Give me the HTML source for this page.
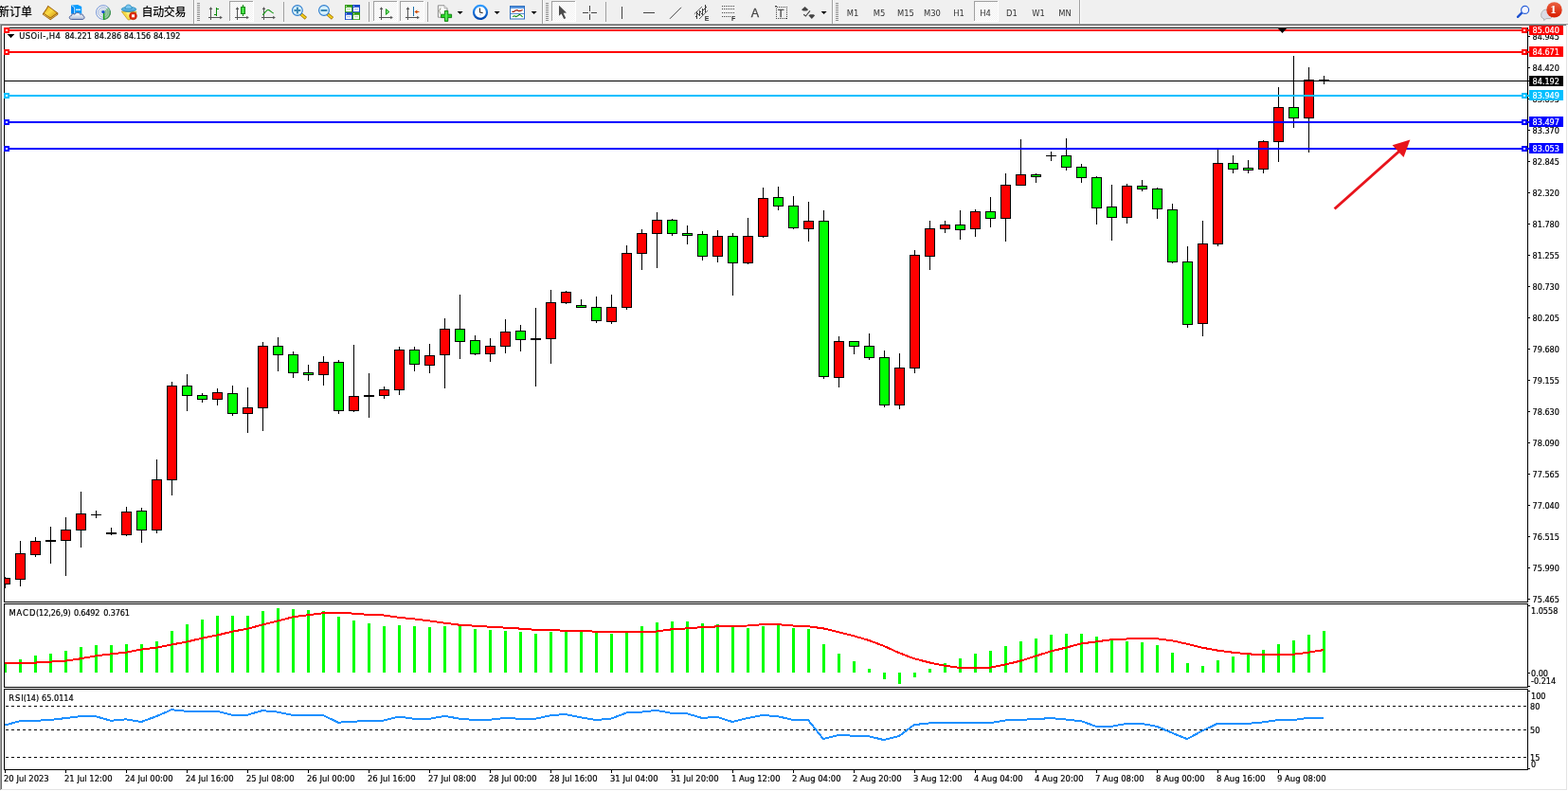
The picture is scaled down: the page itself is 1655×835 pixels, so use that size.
<!DOCTYPE html>
<html lang="zh"><head><meta charset="utf-8"><title>USOil H4</title>
<style>
html,body{margin:0;padding:0;background:#fff}
body{width:1655px;height:835px;position:relative;overflow:hidden;font-family:"Liberation Sans","Noto Sans CJK SC",sans-serif;color:#000}
#tb{position:absolute;left:0;top:0;width:1655px;height:25px;background:#f0f0f0}
svg{position:absolute;left:0;top:0}
.t{position:absolute;white-space:pre;font-family:"DejaVu Sans Condensed","Liberation Sans",sans-serif;font-size:9px;line-height:11px;height:11px;-webkit-text-stroke:0.2px #000}
.ax{left:1617.6px}
.pl{position:absolute;left:1614px;width:36px;height:11px;overflow:hidden}
.pl span{position:absolute;left:3.6px;top:1px;color:#fff;font-family:"DejaVu Sans Condensed","Liberation Sans",sans-serif;font-size:9px;line-height:11px;white-space:pre;-webkit-text-stroke:0.2px #fff}
.dt{top:816px;font-size:9.4px}
.cn{position:absolute;font-family:"Liberation Sans","Noto Sans CJK SC",sans-serif;font-weight:500;font-size:12px;line-height:14px;white-space:pre;color:#000}
.tf{position:absolute;top:8px;font-family:"DejaVu Sans Condensed","Liberation Sans",sans-serif;font-size:9.3px;line-height:11px;color:#333;white-space:pre;text-align:center;width:28px}
</style></head><body>
<div id="tb"></div>
<svg id="chart" width="1655" height="835" viewBox="0 0 1655 835" shape-rendering="crispEdges">
<rect x="0" y="25" width="1655" height="1" fill="#a0a0a0"/><rect x="0" y="25" width="1" height="809" fill="#a0a0a0"/><rect x="1" y="26" width="1653" height="1" fill="#696969"/><rect x="1" y="26" width="1" height="807" fill="#696969"/><rect x="1653" y="26" width="1" height="808" fill="#e3e3e3"/><rect x="1" y="833" width="1653" height="1" fill="#e3e3e3"/><rect x="4" y="29" width="1" height="784" fill="#000"/><rect x="4" y="29" width="1609" height="1" fill="#000"/><rect x="1612" y="29" width="1" height="784" fill="#000"/><rect x="4" y="635" width="1609" height="1" fill="#000"/><rect x="4" y="637" width="1609" height="1" fill="#000"/><rect x="4" y="725" width="1609" height="1" fill="#000"/><rect x="4" y="727" width="1609" height="1" fill="#000"/><rect x="4" y="812" width="1609" height="1" fill="#000"/><rect x="4" y="636" width="1609" height="1" fill="#fff"/><rect x="4" y="726" width="1609" height="1" fill="#fff"/>
<g id="candles"><rect x="5" y="609" width="1" height="12" fill="#000"/><rect x="5" y="610" width="6" height="7" fill="#000"/><rect x="5" y="611" width="5" height="5" fill="#ff0000"/><rect x="21" y="571" width="1" height="48" fill="#000"/><rect x="16" y="584" width="11" height="28" fill="#000"/><rect x="17" y="585" width="9" height="26" fill="#ff0000"/><rect x="37" y="567" width="1" height="21" fill="#000"/><rect x="32" y="571" width="11" height="15" fill="#000"/><rect x="33" y="572" width="9" height="13" fill="#ff0000"/><rect x="53" y="556" width="1" height="39" fill="#000"/><rect x="48" y="570" width="11" height="2" fill="#000"/><rect x="69" y="546" width="1" height="62" fill="#000"/><rect x="64" y="559" width="11" height="12" fill="#000"/><rect x="65" y="560" width="9" height="10" fill="#ff0000"/><rect x="85" y="519" width="1" height="59" fill="#000"/><rect x="80" y="542" width="11" height="18" fill="#000"/><rect x="81" y="543" width="9" height="16" fill="#ff0000"/><rect x="101" y="539" width="1" height="8" fill="#000"/><rect x="96" y="543" width="11" height="1" fill="#000"/><rect x="117" y="557" width="1" height="8" fill="#000"/><rect x="112" y="562" width="11" height="2" fill="#000"/><rect x="133" y="535" width="1" height="31" fill="#000"/><rect x="128" y="540" width="11" height="25" fill="#000"/><rect x="129" y="541" width="9" height="23" fill="#ff0000"/><rect x="149" y="536" width="1" height="37" fill="#000"/><rect x="144" y="539" width="11" height="21" fill="#000"/><rect x="145" y="540" width="9" height="19" fill="#00ff00"/><rect x="165" y="485" width="1" height="78" fill="#000"/><rect x="160" y="506" width="11" height="54" fill="#000"/><rect x="161" y="507" width="9" height="52" fill="#ff0000"/><rect x="181" y="403" width="1" height="120" fill="#000"/><rect x="176" y="407" width="11" height="100" fill="#000"/><rect x="177" y="408" width="9" height="98" fill="#ff0000"/><rect x="197" y="395" width="1" height="39" fill="#000"/><rect x="192" y="407" width="11" height="11" fill="#000"/><rect x="193" y="408" width="9" height="9" fill="#00ff00"/><rect x="213" y="415" width="1" height="10" fill="#000"/><rect x="208" y="417" width="11" height="5" fill="#000"/><rect x="209" y="418" width="9" height="3" fill="#00ff00"/><rect x="229" y="410" width="1" height="18" fill="#000"/><rect x="224" y="414" width="11" height="8" fill="#000"/><rect x="225" y="415" width="9" height="6" fill="#ff0000"/><rect x="245" y="407" width="1" height="32" fill="#000"/><rect x="240" y="415" width="11" height="22" fill="#000"/><rect x="241" y="416" width="9" height="20" fill="#00ff00"/><rect x="261" y="409" width="1" height="48" fill="#000"/><rect x="256" y="430" width="11" height="7" fill="#000"/><rect x="257" y="431" width="9" height="5" fill="#ff0000"/><rect x="277" y="361" width="1" height="94" fill="#000"/><rect x="272" y="365" width="11" height="66" fill="#000"/><rect x="273" y="366" width="9" height="64" fill="#ff0000"/><rect x="293" y="356" width="1" height="36" fill="#000"/><rect x="288" y="365" width="11" height="10" fill="#000"/><rect x="289" y="366" width="9" height="8" fill="#00ff00"/><rect x="309" y="371" width="1" height="28" fill="#000"/><rect x="304" y="374" width="11" height="20" fill="#000"/><rect x="305" y="375" width="9" height="18" fill="#00ff00"/><rect x="325" y="385" width="1" height="17" fill="#000"/><rect x="320" y="393" width="11" height="3" fill="#000"/><rect x="321" y="394" width="9" height="1" fill="#00ff00"/><rect x="341" y="376" width="1" height="31" fill="#000"/><rect x="336" y="382" width="11" height="14" fill="#000"/><rect x="337" y="383" width="9" height="12" fill="#ff0000"/><rect x="357" y="380" width="1" height="57" fill="#000"/><rect x="352" y="382" width="11" height="52" fill="#000"/><rect x="353" y="383" width="9" height="50" fill="#00ff00"/><rect x="373" y="364" width="1" height="71" fill="#000"/><rect x="368" y="418" width="11" height="16" fill="#000"/><rect x="369" y="419" width="9" height="14" fill="#ff0000"/><rect x="389" y="394" width="1" height="47" fill="#000"/><rect x="384" y="417" width="11" height="2" fill="#000"/><rect x="405" y="408" width="1" height="13" fill="#000"/><rect x="400" y="411" width="11" height="7" fill="#000"/><rect x="401" y="412" width="9" height="5" fill="#ff0000"/><rect x="421" y="366" width="1" height="51" fill="#000"/><rect x="416" y="369" width="11" height="43" fill="#000"/><rect x="417" y="370" width="9" height="41" fill="#ff0000"/><rect x="437" y="366" width="1" height="26" fill="#000"/><rect x="432" y="369" width="11" height="16" fill="#000"/><rect x="433" y="370" width="9" height="14" fill="#00ff00"/><rect x="453" y="363" width="1" height="31" fill="#000"/><rect x="448" y="375" width="11" height="11" fill="#000"/><rect x="449" y="376" width="9" height="9" fill="#ff0000"/><rect x="469" y="336" width="1" height="74" fill="#000"/><rect x="464" y="347" width="11" height="28" fill="#000"/><rect x="465" y="348" width="9" height="26" fill="#ff0000"/><rect x="485" y="311" width="1" height="68" fill="#000"/><rect x="480" y="347" width="11" height="14" fill="#000"/><rect x="481" y="348" width="9" height="12" fill="#00ff00"/><rect x="501" y="354" width="1" height="21" fill="#000"/><rect x="496" y="359" width="11" height="15" fill="#000"/><rect x="497" y="360" width="9" height="13" fill="#00ff00"/><rect x="517" y="357" width="1" height="25" fill="#000"/><rect x="512" y="365" width="11" height="9" fill="#000"/><rect x="513" y="366" width="9" height="7" fill="#ff0000"/><rect x="533" y="337" width="1" height="36" fill="#000"/><rect x="528" y="350" width="11" height="16" fill="#000"/><rect x="529" y="351" width="9" height="14" fill="#ff0000"/><rect x="549" y="343" width="1" height="28" fill="#000"/><rect x="544" y="349" width="11" height="10" fill="#000"/><rect x="545" y="350" width="9" height="8" fill="#00ff00"/><rect x="565" y="325" width="1" height="83" fill="#000"/><rect x="560" y="357" width="11" height="2" fill="#000"/><rect x="581" y="306" width="1" height="78" fill="#000"/><rect x="576" y="319" width="11" height="39" fill="#000"/><rect x="577" y="320" width="9" height="37" fill="#ff0000"/><rect x="597" y="307" width="1" height="14" fill="#000"/><rect x="592" y="308" width="11" height="12" fill="#000"/><rect x="593" y="309" width="9" height="10" fill="#ff0000"/><rect x="613" y="316" width="1" height="9" fill="#000"/><rect x="608" y="322" width="11" height="3" fill="#000"/><rect x="609" y="323" width="9" height="1" fill="#00ff00"/><rect x="629" y="313" width="1" height="28" fill="#000"/><rect x="624" y="324" width="11" height="15" fill="#000"/><rect x="625" y="325" width="9" height="13" fill="#00ff00"/><rect x="645" y="311" width="1" height="31" fill="#000"/><rect x="640" y="324" width="11" height="16" fill="#000"/><rect x="641" y="325" width="9" height="14" fill="#ff0000"/><rect x="661" y="259" width="1" height="68" fill="#000"/><rect x="656" y="267" width="11" height="58" fill="#000"/><rect x="657" y="268" width="9" height="56" fill="#ff0000"/><rect x="677" y="242" width="1" height="43" fill="#000"/><rect x="672" y="246" width="11" height="22" fill="#000"/><rect x="673" y="247" width="9" height="20" fill="#ff0000"/><rect x="693" y="224" width="1" height="59" fill="#000"/><rect x="688" y="232" width="11" height="15" fill="#000"/><rect x="689" y="233" width="9" height="13" fill="#ff0000"/><rect x="709" y="231" width="1" height="18" fill="#000"/><rect x="704" y="232" width="11" height="15" fill="#000"/><rect x="705" y="233" width="9" height="13" fill="#00ff00"/><rect x="725" y="238" width="1" height="20" fill="#000"/><rect x="720" y="246" width="11" height="3" fill="#000"/><rect x="721" y="247" width="9" height="1" fill="#00ff00"/><rect x="741" y="244" width="1" height="31" fill="#000"/><rect x="736" y="247" width="11" height="24" fill="#000"/><rect x="737" y="248" width="9" height="22" fill="#00ff00"/><rect x="757" y="243" width="1" height="34" fill="#000"/><rect x="752" y="249" width="11" height="22" fill="#000"/><rect x="753" y="250" width="9" height="20" fill="#ff0000"/><rect x="773" y="246" width="1" height="66" fill="#000"/><rect x="768" y="249" width="11" height="29" fill="#000"/><rect x="769" y="250" width="9" height="27" fill="#00ff00"/><rect x="789" y="230" width="1" height="49" fill="#000"/><rect x="784" y="249" width="11" height="29" fill="#000"/><rect x="785" y="250" width="9" height="27" fill="#ff0000"/><rect x="805" y="198" width="1" height="53" fill="#000"/><rect x="800" y="209" width="11" height="41" fill="#000"/><rect x="801" y="210" width="9" height="39" fill="#ff0000"/><rect x="821" y="197" width="1" height="25" fill="#000"/><rect x="816" y="208" width="11" height="10" fill="#000"/><rect x="817" y="209" width="9" height="8" fill="#00ff00"/><rect x="837" y="207" width="1" height="35" fill="#000"/><rect x="832" y="217" width="11" height="24" fill="#000"/><rect x="833" y="218" width="9" height="22" fill="#00ff00"/><rect x="853" y="213" width="1" height="42" fill="#000"/><rect x="848" y="233" width="11" height="9" fill="#000"/><rect x="849" y="234" width="9" height="7" fill="#ff0000"/><rect x="869" y="222" width="1" height="178" fill="#000"/><rect x="864" y="233" width="11" height="165" fill="#000"/><rect x="865" y="234" width="9" height="163" fill="#00ff00"/><rect x="885" y="355" width="1" height="54" fill="#000"/><rect x="880" y="360" width="11" height="39" fill="#000"/><rect x="881" y="361" width="9" height="37" fill="#ff0000"/><rect x="901" y="360" width="1" height="14" fill="#000"/><rect x="896" y="360" width="11" height="6" fill="#000"/><rect x="897" y="361" width="9" height="4" fill="#00ff00"/><rect x="917" y="352" width="1" height="28" fill="#000"/><rect x="912" y="365" width="11" height="13" fill="#000"/><rect x="913" y="366" width="9" height="11" fill="#00ff00"/><rect x="933" y="370" width="1" height="60" fill="#000"/><rect x="928" y="377" width="11" height="51" fill="#000"/><rect x="929" y="378" width="9" height="49" fill="#00ff00"/><rect x="949" y="373" width="1" height="59" fill="#000"/><rect x="944" y="388" width="11" height="40" fill="#000"/><rect x="945" y="389" width="9" height="38" fill="#ff0000"/><rect x="965" y="264" width="1" height="130" fill="#000"/><rect x="960" y="269" width="11" height="120" fill="#000"/><rect x="961" y="270" width="9" height="118" fill="#ff0000"/><rect x="981" y="233" width="1" height="52" fill="#000"/><rect x="976" y="241" width="11" height="30" fill="#000"/><rect x="977" y="242" width="9" height="28" fill="#ff0000"/><rect x="997" y="233" width="1" height="13" fill="#000"/><rect x="992" y="237" width="11" height="5" fill="#000"/><rect x="993" y="238" width="9" height="3" fill="#ff0000"/><rect x="1013" y="222" width="1" height="31" fill="#000"/><rect x="1008" y="237" width="11" height="6" fill="#000"/><rect x="1009" y="238" width="9" height="4" fill="#00ff00"/><rect x="1029" y="221" width="1" height="29" fill="#000"/><rect x="1024" y="223" width="11" height="19" fill="#000"/><rect x="1025" y="224" width="9" height="17" fill="#ff0000"/><rect x="1045" y="208" width="1" height="32" fill="#000"/><rect x="1040" y="223" width="11" height="8" fill="#000"/><rect x="1041" y="224" width="9" height="6" fill="#00ff00"/><rect x="1061" y="183" width="1" height="72" fill="#000"/><rect x="1056" y="195" width="11" height="36" fill="#000"/><rect x="1057" y="196" width="9" height="34" fill="#ff0000"/><rect x="1077" y="147" width="1" height="49" fill="#000"/><rect x="1072" y="184" width="11" height="12" fill="#000"/><rect x="1073" y="185" width="9" height="10" fill="#ff0000"/><rect x="1093" y="183" width="1" height="10" fill="#000"/><rect x="1088" y="184" width="11" height="3" fill="#000"/><rect x="1089" y="185" width="9" height="1" fill="#00ff00"/><rect x="1109" y="160" width="1" height="10" fill="#000"/><rect x="1104" y="164" width="11" height="1" fill="#000"/><rect x="1125" y="146" width="1" height="34" fill="#000"/><rect x="1120" y="164" width="11" height="13" fill="#000"/><rect x="1121" y="165" width="9" height="11" fill="#00ff00"/><rect x="1141" y="173" width="1" height="20" fill="#000"/><rect x="1136" y="176" width="11" height="12" fill="#000"/><rect x="1137" y="177" width="9" height="10" fill="#00ff00"/><rect x="1157" y="186" width="1" height="51" fill="#000"/><rect x="1152" y="187" width="11" height="33" fill="#000"/><rect x="1153" y="188" width="9" height="31" fill="#00ff00"/><rect x="1173" y="195" width="1" height="59" fill="#000"/><rect x="1168" y="218" width="11" height="12" fill="#000"/><rect x="1169" y="219" width="9" height="10" fill="#00ff00"/><rect x="1189" y="194" width="1" height="42" fill="#000"/><rect x="1184" y="196" width="11" height="34" fill="#000"/><rect x="1185" y="197" width="9" height="32" fill="#ff0000"/><rect x="1205" y="190" width="1" height="12" fill="#000"/><rect x="1200" y="196" width="11" height="4" fill="#000"/><rect x="1201" y="197" width="9" height="2" fill="#00ff00"/><rect x="1221" y="198" width="1" height="33" fill="#000"/><rect x="1216" y="199" width="11" height="22" fill="#000"/><rect x="1217" y="200" width="9" height="20" fill="#00ff00"/><rect x="1237" y="215" width="1" height="63" fill="#000"/><rect x="1232" y="221" width="11" height="56" fill="#000"/><rect x="1233" y="222" width="9" height="54" fill="#00ff00"/><rect x="1253" y="260" width="1" height="86" fill="#000"/><rect x="1248" y="276" width="11" height="67" fill="#000"/><rect x="1249" y="277" width="9" height="65" fill="#00ff00"/><rect x="1269" y="233" width="1" height="122" fill="#000"/><rect x="1264" y="257" width="11" height="85" fill="#000"/><rect x="1265" y="258" width="9" height="83" fill="#ff0000"/><rect x="1285" y="157" width="1" height="103" fill="#000"/><rect x="1280" y="172" width="11" height="86" fill="#000"/><rect x="1281" y="173" width="9" height="84" fill="#ff0000"/><rect x="1301" y="164" width="1" height="19" fill="#000"/><rect x="1296" y="172" width="11" height="7" fill="#000"/><rect x="1297" y="173" width="9" height="5" fill="#00ff00"/><rect x="1317" y="169" width="1" height="14" fill="#000"/><rect x="1312" y="177" width="11" height="3" fill="#000"/><rect x="1313" y="178" width="9" height="1" fill="#00ff00"/><rect x="1333" y="148" width="1" height="35" fill="#000"/><rect x="1328" y="149" width="11" height="30" fill="#000"/><rect x="1329" y="150" width="9" height="28" fill="#ff0000"/><rect x="1349" y="92" width="1" height="79" fill="#000"/><rect x="1344" y="113" width="11" height="37" fill="#000"/><rect x="1345" y="114" width="9" height="35" fill="#ff0000"/><rect x="1365" y="59" width="1" height="76" fill="#000"/><rect x="1360" y="113" width="11" height="12" fill="#000"/><rect x="1361" y="114" width="9" height="10" fill="#00ff00"/><rect x="1381" y="71" width="1" height="90" fill="#000"/><rect x="1376" y="84" width="11" height="41" fill="#000"/><rect x="1377" y="85" width="9" height="39" fill="#ff0000"/><rect x="1397" y="80" width="1" height="9" fill="#000"/><rect x="1392" y="84" width="11" height="2" fill="#000"/></g>
<g id="lines"><rect x="5" y="85" width="1609" height="1" fill="#000"/><rect x="5" y="31" width="1609" height="2" fill="#ff0000"/><rect x="4" y="29" width="6" height="6" fill="#ff0000"/><rect x="6" y="31" width="2" height="2" fill="#fff"/><rect x="1606" y="29" width="6" height="6" fill="#ff0000"/><rect x="1608" y="31" width="2" height="2" fill="#fff"/><rect x="5" y="54" width="1609" height="2" fill="#ff0000"/><rect x="4" y="52" width="6" height="6" fill="#ff0000"/><rect x="6" y="54" width="2" height="2" fill="#fff"/><rect x="1606" y="52" width="6" height="6" fill="#ff0000"/><rect x="1608" y="54" width="2" height="2" fill="#fff"/><rect x="5" y="100" width="1609" height="2" fill="#00bfff"/><rect x="4" y="98" width="6" height="6" fill="#00bfff"/><rect x="6" y="100" width="2" height="2" fill="#fff"/><rect x="1606" y="98" width="6" height="6" fill="#00bfff"/><rect x="1608" y="100" width="2" height="2" fill="#fff"/><rect x="5" y="128" width="1609" height="2" fill="#0000ff"/><rect x="4" y="126" width="6" height="6" fill="#0000ff"/><rect x="6" y="128" width="2" height="2" fill="#fff"/><rect x="1606" y="126" width="6" height="6" fill="#0000ff"/><rect x="1608" y="128" width="2" height="2" fill="#fff"/><rect x="5" y="156" width="1609" height="2" fill="#0000ff"/><rect x="4" y="154" width="6" height="6" fill="#0000ff"/><rect x="6" y="156" width="2" height="2" fill="#fff"/><rect x="1606" y="154" width="6" height="6" fill="#0000ff"/><rect x="1608" y="156" width="2" height="2" fill="#fff"/><polygon points="1349,30 1358,30 1353.5,35" fill="#000" shape-rendering="auto"/><polygon points="8,36 15,36 11.5,40" fill="#000"/></g>
<g id="axis"><rect x="1613" y="38" width="2" height="1" fill="#000"/><rect x="1613" y="71" width="2" height="1" fill="#000"/><rect x="1613" y="104" width="2" height="1" fill="#000"/><rect x="1613" y="137" width="2" height="1" fill="#000"/><rect x="1613" y="170" width="2" height="1" fill="#000"/><rect x="1613" y="203" width="2" height="1" fill="#000"/><rect x="1613" y="236" width="2" height="1" fill="#000"/><rect x="1613" y="269" width="2" height="1" fill="#000"/><rect x="1613" y="302" width="2" height="1" fill="#000"/><rect x="1613" y="335" width="2" height="1" fill="#000"/><rect x="1613" y="368" width="2" height="1" fill="#000"/><rect x="1613" y="401" width="2" height="1" fill="#000"/><rect x="1613" y="434" width="2" height="1" fill="#000"/><rect x="1613" y="467" width="2" height="1" fill="#000"/><rect x="1613" y="500" width="2" height="1" fill="#000"/><rect x="1613" y="533" width="2" height="1" fill="#000"/><rect x="1613" y="566" width="2" height="1" fill="#000"/><rect x="1613" y="599" width="2" height="1" fill="#000"/><rect x="1613" y="632" width="2" height="1" fill="#000"/><rect x="1613" y="710" width="2" height="1" fill="#000"/><rect x="1613" y="639" width="2" height="1" fill="#000"/><rect x="1613" y="724" width="2" height="1" fill="#000"/><rect x="1613" y="729" width="2" height="1" fill="#000"/><rect x="1613" y="811" width="2" height="1" fill="#000"/><rect x="5" y="813" width="1" height="3" fill="#000"/><rect x="69" y="813" width="1" height="3" fill="#000"/><rect x="133" y="813" width="1" height="3" fill="#000"/><rect x="197" y="813" width="1" height="3" fill="#000"/><rect x="261" y="813" width="1" height="3" fill="#000"/><rect x="325" y="813" width="1" height="3" fill="#000"/><rect x="389" y="813" width="1" height="3" fill="#000"/><rect x="453" y="813" width="1" height="3" fill="#000"/><rect x="517" y="813" width="1" height="3" fill="#000"/><rect x="581" y="813" width="1" height="3" fill="#000"/><rect x="645" y="813" width="1" height="3" fill="#000"/><rect x="709" y="813" width="1" height="3" fill="#000"/><rect x="773" y="813" width="1" height="3" fill="#000"/><rect x="837" y="813" width="1" height="3" fill="#000"/><rect x="901" y="813" width="1" height="3" fill="#000"/><rect x="965" y="813" width="1" height="3" fill="#000"/><rect x="1029" y="813" width="1" height="3" fill="#000"/><rect x="1093" y="813" width="1" height="3" fill="#000"/><rect x="1157" y="813" width="1" height="3" fill="#000"/><rect x="1221" y="813" width="1" height="3" fill="#000"/><rect x="1285" y="813" width="1" height="3" fill="#000"/><rect x="1349" y="813" width="1" height="3" fill="#000"/></g>
<g id="macd"><rect x="5" y="700" width="2" height="10" fill="#00ff00"/><rect x="20" y="696" width="3" height="14" fill="#00ff00"/><rect x="36" y="692" width="3" height="18" fill="#00ff00"/><rect x="52" y="690" width="3" height="20" fill="#00ff00"/><rect x="68" y="687" width="3" height="23" fill="#00ff00"/><rect x="84" y="683" width="3" height="27" fill="#00ff00"/><rect x="100" y="681" width="3" height="29" fill="#00ff00"/><rect x="116" y="681" width="3" height="29" fill="#00ff00"/><rect x="132" y="680" width="3" height="30" fill="#00ff00"/><rect x="148" y="680" width="3" height="30" fill="#00ff00"/><rect x="164" y="677" width="3" height="33" fill="#00ff00"/><rect x="180" y="666" width="3" height="44" fill="#00ff00"/><rect x="196" y="659" width="3" height="51" fill="#00ff00"/><rect x="212" y="654" width="3" height="56" fill="#00ff00"/><rect x="228" y="650" width="3" height="60" fill="#00ff00"/><rect x="244" y="650" width="3" height="60" fill="#00ff00"/><rect x="260" y="650" width="3" height="60" fill="#00ff00"/><rect x="276" y="645" width="3" height="65" fill="#00ff00"/><rect x="292" y="642" width="3" height="68" fill="#00ff00"/><rect x="308" y="643" width="3" height="67" fill="#00ff00"/><rect x="324" y="644" width="3" height="66" fill="#00ff00"/><rect x="340" y="645" width="3" height="65" fill="#00ff00"/><rect x="356" y="651" width="3" height="59" fill="#00ff00"/><rect x="372" y="655" width="3" height="55" fill="#00ff00"/><rect x="388" y="658" width="3" height="52" fill="#00ff00"/><rect x="404" y="661" width="3" height="49" fill="#00ff00"/><rect x="420" y="660" width="3" height="50" fill="#00ff00"/><rect x="436" y="661" width="3" height="49" fill="#00ff00"/><rect x="452" y="662" width="3" height="48" fill="#00ff00"/><rect x="468" y="661" width="3" height="49" fill="#00ff00"/><rect x="484" y="661" width="3" height="49" fill="#00ff00"/><rect x="500" y="664" width="3" height="46" fill="#00ff00"/><rect x="516" y="665" width="3" height="45" fill="#00ff00"/><rect x="532" y="666" width="3" height="44" fill="#00ff00"/><rect x="548" y="667" width="3" height="43" fill="#00ff00"/><rect x="564" y="669" width="3" height="41" fill="#00ff00"/><rect x="580" y="667" width="3" height="43" fill="#00ff00"/><rect x="596" y="666" width="3" height="44" fill="#00ff00"/><rect x="612" y="667" width="3" height="43" fill="#00ff00"/><rect x="628" y="668" width="3" height="42" fill="#00ff00"/><rect x="644" y="669" width="3" height="41" fill="#00ff00"/><rect x="660" y="668" width="3" height="42" fill="#00ff00"/><rect x="676" y="661" width="3" height="49" fill="#00ff00"/><rect x="692" y="657" width="3" height="53" fill="#00ff00"/><rect x="708" y="656" width="3" height="54" fill="#00ff00"/><rect x="724" y="656" width="3" height="54" fill="#00ff00"/><rect x="740" y="658" width="3" height="52" fill="#00ff00"/><rect x="756" y="659" width="3" height="51" fill="#00ff00"/><rect x="772" y="661" width="3" height="49" fill="#00ff00"/><rect x="788" y="663" width="3" height="47" fill="#00ff00"/><rect x="804" y="661" width="3" height="49" fill="#00ff00"/><rect x="820" y="660" width="3" height="50" fill="#00ff00"/><rect x="836" y="663" width="3" height="47" fill="#00ff00"/><rect x="852" y="664" width="3" height="46" fill="#00ff00"/><rect x="868" y="680" width="3" height="30" fill="#00ff00"/><rect x="884" y="690" width="3" height="20" fill="#00ff00"/><rect x="900" y="698" width="3" height="12" fill="#00ff00"/><rect x="916" y="706" width="3" height="4" fill="#00ff00"/><rect x="932" y="710" width="3" height="7" fill="#00ff00"/><rect x="948" y="710" width="3" height="12" fill="#00ff00"/><rect x="964" y="710" width="3" height="5" fill="#00ff00"/><rect x="980" y="706" width="3" height="4" fill="#00ff00"/><rect x="996" y="700" width="3" height="10" fill="#00ff00"/><rect x="1012" y="695" width="3" height="15" fill="#00ff00"/><rect x="1028" y="690" width="3" height="20" fill="#00ff00"/><rect x="1044" y="687" width="3" height="23" fill="#00ff00"/><rect x="1060" y="682" width="3" height="28" fill="#00ff00"/><rect x="1076" y="677" width="3" height="33" fill="#00ff00"/><rect x="1092" y="674" width="3" height="36" fill="#00ff00"/><rect x="1108" y="670" width="3" height="40" fill="#00ff00"/><rect x="1124" y="669" width="3" height="41" fill="#00ff00"/><rect x="1140" y="669" width="3" height="41" fill="#00ff00"/><rect x="1156" y="672" width="3" height="38" fill="#00ff00"/><rect x="1172" y="676" width="3" height="34" fill="#00ff00"/><rect x="1188" y="677" width="3" height="33" fill="#00ff00"/><rect x="1204" y="678" width="3" height="32" fill="#00ff00"/><rect x="1220" y="681" width="3" height="29" fill="#00ff00"/><rect x="1236" y="689" width="3" height="21" fill="#00ff00"/><rect x="1252" y="700" width="3" height="10" fill="#00ff00"/><rect x="1268" y="703" width="3" height="7" fill="#00ff00"/><rect x="1284" y="697" width="3" height="13" fill="#00ff00"/><rect x="1300" y="693" width="3" height="17" fill="#00ff00"/><rect x="1316" y="691" width="3" height="19" fill="#00ff00"/><rect x="1332" y="686" width="3" height="24" fill="#00ff00"/><rect x="1348" y="680" width="3" height="30" fill="#00ff00"/><rect x="1364" y="676" width="3" height="34" fill="#00ff00"/><rect x="1380" y="670" width="3" height="40" fill="#00ff00"/><rect x="1396" y="666" width="3" height="44" fill="#00ff00"/><polyline points="5,700.1 21,700.0 37,699.6 53,698.6 69,697.7 85,695.3 101,692.4 117,690.4 133,688.7 149,685.6 165,683.7 181,680.5 197,677.6 213,673.7 229,670.6 245,666.7 261,663.8 277,659.5 293,655.6 309,651.3 325,649.3 341,647.2 357,646.9 373,647.6 389,648.9 405,649.5 421,651.8 437,653.4 453,655.4 469,657.6 485,659.7 501,660.7 517,661.7 533,662.6 549,663.6 565,664.8 581,665.0 597,665.8 613,666.0 629,666.7 645,667.0 661,667.0 677,667.0 693,666.5 709,664.3 725,663.4 741,662.1 757,661.4 773,660.9 789,660.5 805,659.2 821,659.2 837,660.5 853,661.2 869,663.4 885,667.2 901,671.3 917,675.9 933,682.0 949,689.2 965,695.3 981,699.4 997,702.7 1013,704.9 1029,704.9 1045,704.7 1061,701.5 1077,697.7 1093,692.6 1109,687.5 1125,683.7 1141,679.5 1157,677.4 1173,675.2 1189,674.5 1205,673.7 1221,674.2 1237,676.2 1253,679.8 1269,683.7 1285,686.6 1301,688.7 1317,690.4 1333,690.9 1349,690.9 1365,690.7 1381,688.7 1397,686.1" fill="none" stroke="#ff0000" stroke-width="2" stroke-linejoin="round"/></g>
<g id="rsi"><line x1="6" y1="745.5" x2="1612" y2="745.5" stroke="#000" stroke-width="1" stroke-dasharray="3 3"/><line x1="6" y1="770.5" x2="1612" y2="770.5" stroke="#000" stroke-width="1" stroke-dasharray="3 3"/><line x1="6" y1="799.5" x2="1612" y2="799.5" stroke="#000" stroke-width="1" stroke-dasharray="3 3"/><polyline points="5,765.5 21,761.2 37,760.8 53,760.0 69,758.1 85,756.2 101,756.2 117,760.8 133,759.3 149,762.0 165,756.2 181,749.2 197,750.8 213,750.8 229,750.8 245,754.7 261,754.7 277,750.1 293,751.6 309,755.0 325,755.0 341,755.0 357,762.7 373,761.7 389,761.0 405,760.5 421,756.6 437,758.8 453,758.8 469,755.9 485,758.6 501,760.0 517,759.8 533,757.9 549,758.8 565,758.8 581,755.2 597,754.0 613,757.4 629,760.0 645,758.6 661,752.5 677,751.6 693,749.9 709,752.8 725,753.3 741,757.9 757,756.9 773,762.0 789,758.1 805,755.0 821,756.2 837,760.0 853,760.0 869,780.1 885,776.0 901,776.7 917,777.2 933,781.1 949,777.0 965,765.1 981,763.4 997,763.2 1013,763.2 1029,763.2 1045,763.2 1061,760.5 1077,759.8 1093,759.1 1109,758.1 1125,759.5 1141,761.2 1157,766.8 1173,766.8 1189,763.9 1205,763.9 1221,766.8 1237,773.6 1253,780.1 1269,771.4 1285,763.9 1301,763.9 1317,763.9 1333,762.4 1349,760.0 1365,760.0 1381,757.9 1397,757.9" fill="none" stroke="#1e90ff" stroke-width="2" stroke-linejoin="round"/></g>
</svg>
<svg id="arrow" width="1655" height="835" viewBox="0 0 1655 835"><line x1="1408.6" y1="220.5" x2="1477" y2="159.5" stroke="#e8141c" stroke-width="3"/><polygon points="1488.4,147.6 1469.6,153.2 1481.5,166" fill="#e8141c"/></svg>
<div class="t" style="left:20.2px;top:32px;font-size:9.3px;letter-spacing:0.46px">USOil-,H4</div><div class="t" style="left:68.4px;top:33px;font-size:9px;letter-spacing:0.04px">84.221 84.286 84.156 84.192</div><div class="t" style="left:9.4px;top:641px;font-size:9.3px;letter-spacing:0.97px">MACD</div><div class="t" style="left:38.0px;top:642px;font-size:9px;letter-spacing:-0.07px">(12,26,9)</div><div class="t" style="left:78.0px;top:642px;font-size:9px;letter-spacing:-0.18px">0.6492</div><div class="t" style="left:109.2px;top:642px;font-size:9px;letter-spacing:-0.1px">0.3761</div><div class="t" style="left:9.2px;top:731px;font-size:9.3px;letter-spacing:0.95px">RSI</div><div class="t" style="left:24.7px;top:732px;font-size:9px;letter-spacing:-0.07px">(14)</div><div class="t" style="left:44.0px;top:732px;font-size:9px;letter-spacing:0.03px">65.0114</div>
<div class="t ax" style="top:34px">84.945</div><div class="t ax" style="top:67px">84.420</div><div class="t ax" style="top:100px">83.895</div><div class="t ax" style="top:133px">83.370</div><div class="t ax" style="top:166px">82.845</div><div class="t ax" style="top:199px">82.320</div><div class="t ax" style="top:232px">81.780</div><div class="t ax" style="top:265px">81.255</div><div class="t ax" style="top:298px">80.730</div><div class="t ax" style="top:331px">80.205</div><div class="t ax" style="top:364px">79.680</div><div class="t ax" style="top:397px">79.155</div><div class="t ax" style="top:430px">78.630</div><div class="t ax" style="top:463px">78.090</div><div class="t ax" style="top:496px">77.565</div><div class="t ax" style="top:529px">77.040</div><div class="t ax" style="top:562px">76.515</div><div class="t ax" style="top:595px">75.990</div><div class="t ax" style="top:628px">75.465</div>
<div class="t" style="left:1616px;top:640px">1.0558</div><div class="t" style="left:1616px;top:706px">0.00</div><div class="t" style="left:1616px;top:714px">-0.214</div><div class="t" style="left:1616px;top:730px">100</div><div class="t" style="left:1615px;top:741px">80</div><div class="t" style="left:1615px;top:766px">50</div><div class="t" style="left:1615px;top:795px">15</div><div class="t" style="left:1616px;top:802px">0</div>
<div class="pl" style="top:27px;height:10px;background:#ff0000"><span style="top:0">85.040</span></div><div class="pl" style="top:49px;background:#ff0000"><span>84.671</span></div><div class="pl" style="top:80px;background:#000"><span>84.192</span></div><div class="pl" style="top:95px;background:#00bfff"><span>83.949</span></div><div class="pl" style="top:123px;background:#0000ff"><span>83.497</span></div><div class="pl" style="top:151px;background:#0000ff"><span>83.053</span></div>
<div class="t dt" style="left:4px">20 Jul 2023</div><div class="t dt" style="left:68px">21 Jul 12:00</div><div class="t dt" style="left:132px">24 Jul 00:00</div><div class="t dt" style="left:196px">24 Jul 16:00</div><div class="t dt" style="left:260px">25 Jul 08:00</div><div class="t dt" style="left:324px">26 Jul 00:00</div><div class="t dt" style="left:388px">26 Jul 16:00</div><div class="t dt" style="left:452px">27 Jul 08:00</div><div class="t dt" style="left:516px">28 Jul 00:00</div><div class="t dt" style="left:580px">28 Jul 16:00</div><div class="t dt" style="left:644px">31 Jul 04:00</div><div class="t dt" style="left:708px">31 Jul 20:00</div><div class="t dt" style="left:772px">1 Aug 12:00</div><div class="t dt" style="left:836px">2 Aug 04:00</div><div class="t dt" style="left:900px">2 Aug 20:00</div><div class="t dt" style="left:964px">3 Aug 12:00</div><div class="t dt" style="left:1028px">4 Aug 04:00</div><div class="t dt" style="left:1092px">4 Aug 20:00</div><div class="t dt" style="left:1156px">7 Aug 08:00</div><div class="t dt" style="left:1220px">8 Aug 00:00</div><div class="t dt" style="left:1284px">8 Aug 16:00</div><div class="t dt" style="left:1348px">9 Aug 08:00</div>
<svg id="tbi" width="1655" height="25" viewBox="0 0 1655 25">
<defs><linearGradient id="gGold" x1="0" y1="0" x2="1" y2="1"><stop offset="0" stop-color="#e2a80e"/><stop offset="0.45" stop-color="#fbdc48"/><stop offset="1" stop-color="#d09208"/></linearGradient><linearGradient id="gCloud" x1="0" y1="0" x2="0" y2="1"><stop offset="0" stop-color="#ffffff"/><stop offset="1" stop-color="#b4c0d8"/></linearGradient><linearGradient id="gBadge" x1="0" y1="0" x2="0" y2="1"><stop offset="0" stop-color="#ea6040"/><stop offset="1" stop-color="#d81c00"/></linearGradient><linearGradient id="gGreen" x1="0" y1="0" x2="1" y2="0"><stop offset="0" stop-color="#00b400"/><stop offset="0.5" stop-color="#7cff7c"/><stop offset="1" stop-color="#00c000"/></linearGradient><linearGradient id="gClock" x1="0" y1="0" x2="0" y2="1"><stop offset="0" stop-color="#2e9bff"/><stop offset="1" stop-color="#0048b0"/></linearGradient><radialGradient id="gSig" cx="0.5" cy="0.5" r="0.5"><stop offset="0" stop-color="#ffffff" stop-opacity="0"/><stop offset="1" stop-color="#2f9a2f" stop-opacity="0.75"/></radialGradient><pattern id="chk" width="2" height="2" patternUnits="userSpaceOnUse"><rect width="2" height="2" fill="#f0f0f0"/><rect width="1" height="1" fill="#fff"/><rect x="1" y="1" width="1" height="1" fill="#fff"/></pattern></defs>
<rect x="0" y="24" width="1655" height="1" fill="#f6f6f6"/><g shape-rendering="crispEdges"><rect x="242" y="1" width="25" height="22" fill="url(#chk)"/><rect x="242" y="1" width="25" height="1" fill="#a0a0a0"/><rect x="242" y="1" width="1" height="22" fill="#a0a0a0"/><rect x="242" y="22" width="26" height="1" fill="#fff"/><rect x="267" y="1" width="1" height="22" fill="#fff"/></g><g shape-rendering="crispEdges"><rect x="394" y="1" width="25" height="22" fill="url(#chk)"/><rect x="394" y="1" width="25" height="1" fill="#a0a0a0"/><rect x="394" y="1" width="1" height="22" fill="#a0a0a0"/><rect x="394" y="22" width="26" height="1" fill="#fff"/><rect x="419" y="1" width="1" height="22" fill="#fff"/></g><g shape-rendering="crispEdges"><rect x="422" y="1" width="25" height="22" fill="url(#chk)"/><rect x="422" y="1" width="25" height="1" fill="#a0a0a0"/><rect x="422" y="1" width="1" height="22" fill="#a0a0a0"/><rect x="422" y="22" width="26" height="1" fill="#fff"/><rect x="447" y="1" width="1" height="22" fill="#fff"/></g><g shape-rendering="crispEdges"><rect x="582" y="1" width="25" height="22" fill="url(#chk)"/><rect x="582" y="1" width="25" height="1" fill="#a0a0a0"/><rect x="582" y="1" width="1" height="22" fill="#a0a0a0"/><rect x="582" y="22" width="26" height="1" fill="#fff"/><rect x="607" y="1" width="1" height="22" fill="#fff"/></g><g shape-rendering="crispEdges"><rect x="1028" y="1" width="25" height="22" fill="url(#chk)"/><rect x="1028" y="1" width="25" height="1" fill="#a0a0a0"/><rect x="1028" y="1" width="1" height="22" fill="#a0a0a0"/><rect x="1028" y="22" width="26" height="1" fill="#fff"/><rect x="1053" y="1" width="1" height="22" fill="#fff"/></g><path d="M50.6,5.8 L61.4,13.8 L61.2,15.6 L53.2,21.2 L44.8,15.2 C45.4,13.4 47.6,11.6 50.6,5.8 Z" fill="#9c5f0a"/><path d="M51,7 L60,13.7 L53.2,18.6 L46.6,13.9 C47.8,12.2 49.6,10 51,7 Z" fill="url(#gGold)"/><path d="M46,14.6 L53.2,19.6 L60.4,14.6 L60.3,15.4 L53.2,20.3 L46,15.4 Z" fill="#e8c45a"/><polygon points="75.2,5.4 82,5 86.2,7 86.2,14.5 75.2,14.5" fill="#0a9dff"/><polygon points="75.2,5.4 78.6,7.6 78.6,14.5 75.2,14.5" fill="#0084f0"/><polyline points="75.6,5.8 78.6,7.8 78.6,14" fill="none" stroke="#dff2ff" stroke-width="0.8"/><rect x="80" y="9.6" width="5" height="1.3" fill="#e8f6ff"/><path d="M75.4,20.4 C72.6,20.4 72.4,16.8 75.4,16.6 C75.4,14.6 78,14 79,15.2 C80.2,12.6 84,12.8 84.8,15.4 C86.2,14.4 88,15.2 87.8,16.8 C89.8,17.4 89.4,20.4 87,20.4 Z" fill="url(#gCloud)" stroke="#4a5f9a" stroke-width="1"/><circle cx="108.9" cy="13" r="7.4" fill="none" stroke="#3d6fd0" stroke-width="0.9" opacity="0.75"/><circle cx="108.9" cy="13" r="5.2" fill="none" stroke="#5a86d8" stroke-width="0.9" opacity="0.6"/><circle cx="108.9" cy="13" r="3.1" fill="none" stroke="#7aa0e0" stroke-width="0.9" opacity="0.5"/><path d="M108.9,13 L108.9,20.8 A7.8,7.8 0 0 0 114.4,7.5 Z" fill="#3aa53a" opacity="0.45"/><path d="M109.4,20.6 A7.6,7.6 0 0 0 116.3,11.4" fill="none" stroke="#2c8c2c" stroke-width="1.2" opacity="0.7"/><rect x="108.9" y="13" width="1.4" height="7.8" fill="#12a012"/><circle cx="108.9" cy="12.6" r="1.7" fill="#1b4fd0"/><path d="M128.4,12.2 L143.8,12.2 L143.6,13.6 L137.2,20.8 L135,20.8 Z" fill="#f6dc4a" stroke="#c69a12" stroke-width="0.8"/><path d="M133,13 L139,13 L136.4,19.6 Z" fill="#fff68c" opacity="0.8"/><ellipse cx="136" cy="9.8" rx="7.8" ry="2.5" fill="#62b8e8" stroke="#2b8bbb" stroke-width="0.8"/><path d="M132,9.4 C132,3.6 139.2,3.6 139.2,9.4 Z" fill="#7cc8f2" stroke="#2b8bbb" stroke-width="0.8"/><path d="M129.4,10.2 C132,12.4 140,12.4 142.8,10" fill="none" stroke="#2b8bbb" stroke-width="0.8"/><circle cx="140.5" cy="16.8" r="3.9" fill="#e02a08" stroke="#b41a02" stroke-width="0.7"/><rect x="139" y="15.3" width="3" height="3" fill="#fff"/><rect x="204" y="0" width="1" height="25" fill="#a0a0a0" shape-rendering="crispEdges"/><rect x="205" y="0" width="1" height="25" fill="#fff" shape-rendering="crispEdges"/><rect x="208" y="3" width="3" height="1" fill="#8e8e8e" shape-rendering="crispEdges"/><rect x="208" y="5" width="3" height="1" fill="#8e8e8e" shape-rendering="crispEdges"/><rect x="208" y="7" width="3" height="1" fill="#8e8e8e" shape-rendering="crispEdges"/><rect x="208" y="9" width="3" height="1" fill="#8e8e8e" shape-rendering="crispEdges"/><rect x="208" y="11" width="3" height="1" fill="#8e8e8e" shape-rendering="crispEdges"/><rect x="208" y="13" width="3" height="1" fill="#8e8e8e" shape-rendering="crispEdges"/><rect x="208" y="15" width="3" height="1" fill="#8e8e8e" shape-rendering="crispEdges"/><rect x="208" y="17" width="3" height="1" fill="#8e8e8e" shape-rendering="crispEdges"/><rect x="208" y="19" width="3" height="1" fill="#8e8e8e" shape-rendering="crispEdges"/><rect x="208" y="21" width="3" height="1" fill="#8e8e8e" shape-rendering="crispEdges"/><g fill="#555" shape-rendering="crispEdges"><rect x="222" y="8" width="1" height="13"/><rect x="220" y="18" width="13" height="1"/></g><polygon points="220.7,10 222.5,7.2 224.3,10" fill="#555"/><polygon points="232.2,16.7 234.8,18.5 232.2,20.3" fill="#555"/><g fill="#0a8a0a" shape-rendering="crispEdges"><rect x="228" y="8" width="1" height="9"/><rect x="229" y="9" width="2" height="1"/><rect x="226" y="15" width="2" height="1"/></g><g fill="#555" shape-rendering="crispEdges"><rect x="250" y="8" width="1" height="13"/><rect x="248" y="18" width="13" height="1"/></g><polygon points="248.7,10 250.5,7.2 252.3,10" fill="#555"/><polygon points="260.2,16.7 262.8,18.5 260.2,20.3" fill="#555"/><g shape-rendering="crispEdges"><rect x="256" y="5" width="1" height="12" fill="#0a8a0a"/><rect x="254" y="7" width="5" height="8" fill="#0a8a0a"/><rect x="255" y="8" width="3" height="6" fill="#48e048"/></g><g fill="#555" shape-rendering="crispEdges"><rect x="278" y="8" width="1" height="13"/><rect x="276" y="18" width="13" height="1"/></g><polygon points="276.7,10 278.5,7.2 280.3,10" fill="#555"/><polygon points="288.2,16.7 290.8,18.5 288.2,20.3" fill="#555"/><path d="M277.2,15.8 C280,13.6 281.2,10.2 283,10.4 C285,10.6 286.6,13.4 288.8,14" fill="none" stroke="#1e9a1e" stroke-width="1.2"/><rect x="299" y="2" width="1" height="21" fill="#a0a0a0" shape-rendering="crispEdges"/><line x1="317.5" y1="14.8" x2="322.9" y2="19.4" stroke="#a87400" stroke-width="3.4"/><line x1="317.9" y1="15.2" x2="322.5" y2="19" stroke="#f2d21c" stroke-width="1.8"/><circle cx="313.9" cy="11" r="5.4" fill="#d4effc" stroke="#2b7bcd" stroke-width="1.1"/><rect x="310.5" y="10" width="6.8" height="2" fill="#3a86b4"/><rect x="312.9" y="7.6" width="2" height="6.8" fill="#3a86b4"/><line x1="345.6" y1="14.8" x2="351" y2="19.4" stroke="#a87400" stroke-width="3.4"/><line x1="346" y1="15.2" x2="350.6" y2="19" stroke="#f2d21c" stroke-width="1.8"/><circle cx="342" cy="11" r="5.4" fill="#d4effc" stroke="#2b7bcd" stroke-width="1.1"/><rect x="338.6" y="10" width="6.8" height="2" fill="#3a86b4"/><rect x="364" y="5" width="8" height="8" fill="#2f9a12" shape-rendering="crispEdges"/><rect x="365" y="7.8" width="6" height="4.4" fill="#fff"/><rect x="366" y="9.2" width="4" height="1" fill="#2f9a12" opacity="0.4"/><rect x="365" y="6" width="1" height="1" fill="#fff" opacity="0.7"/><rect x="372" y="5" width="8" height="8" fill="#1648c8" shape-rendering="crispEdges"/><rect x="373" y="7.8" width="6" height="4.4" fill="#fff"/><rect x="374" y="9.2" width="4" height="1" fill="#1648c8" opacity="0.4"/><rect x="373" y="6" width="1" height="1" fill="#fff" opacity="0.7"/><rect x="364" y="13" width="8" height="8" fill="#1648c8" shape-rendering="crispEdges"/><rect x="365" y="15.8" width="6" height="4.4" fill="#fff"/><rect x="366" y="17.2" width="4" height="1" fill="#1648c8" opacity="0.4"/><rect x="365" y="14" width="1" height="1" fill="#fff" opacity="0.7"/><rect x="372" y="13" width="8" height="8" fill="#2f9a12" shape-rendering="crispEdges"/><rect x="373" y="15.8" width="6" height="4.4" fill="#fff"/><rect x="374" y="17.2" width="4" height="1" fill="#2f9a12" opacity="0.4"/><rect x="373" y="14" width="1" height="1" fill="#fff" opacity="0.7"/><rect x="389" y="2" width="1" height="21" fill="#a0a0a0" shape-rendering="crispEdges"/><g fill="#555" shape-rendering="crispEdges"><rect x="402" y="8" width="1" height="13"/><rect x="400" y="18" width="13" height="1"/></g><polygon points="400.7,10 402.5,7.2 404.3,10" fill="#555"/><polygon points="412.2,16.7 414.8,18.5 412.2,20.3" fill="#555"/><polygon points="407.4,9.6 410.8,12.5 407.4,15.4" fill="#7be07b" stroke="#0a9a0a" stroke-width="1"/><g fill="#555" shape-rendering="crispEdges"><rect x="430" y="8" width="1" height="13"/><rect x="428" y="18" width="13" height="1"/></g><polygon points="428.7,10 430.5,7.2 432.3,10" fill="#555"/><polygon points="440.2,16.7 442.8,18.5 440.2,20.3" fill="#555"/><rect x="436" y="7" width="1" height="10" fill="#1c6ea8" shape-rendering="crispEdges"/><polygon points="437.4,12.5 440.4,10.4 440.4,14.6" fill="#d04a00"/><rect x="439" y="12" width="3.4" height="1" fill="#d04a00"/><rect x="451" y="2" width="1" height="21" fill="#a0a0a0" shape-rendering="crispEdges"/><path d="M462.4,5.8 L469,5.8 L472,8.8 L472,18.2 L462.4,18.2 Z" fill="#fdfdfd" stroke="#8a8a8a" stroke-width="1"/><path d="M469,5.8 L469,8.8 L472,8.8" fill="#e8e8e8" stroke="#9a9a9a" stroke-width="0.7"/><path d="M465.4,8.4 C463.8,8.8 464.6,11 463.6,11.6 C464.6,12.2 463.8,14.6 465.4,15" fill="none" stroke="#6a6a50" stroke-width="0.8"/><path d="M469.4,11.4 h3.4 v3.8 h3.8 v3.4 h-3.8 v3.8 h-3.4 v-3.8 h-3.8 v-3.4 h3.8 z" fill="#22d022" stroke="#0a7a0a" stroke-width="0.9"/><rect x="470.4" y="12.4" width="1.2" height="9" fill="#8cff8c" opacity="0.8"/><polygon points="482.6,11.9 488.6,11.9 485.6,15" fill="#000"/><circle cx="507" cy="12.9" r="7" fill="#fff" stroke="url(#gClock)" stroke-width="2.2"/><path d="M506.4,8.6 L506.6,13 L509.6,13.6" fill="none" stroke="#303030" stroke-width="1.1"/><circle cx="507" cy="15.6" r="0.7" fill="#6aa8f0"/><polygon points="521.6,11.9 527.6,11.9 524.6,15" fill="#000"/><rect x="538.5" y="6.5" width="15" height="13.5" fill="#fff" stroke="#2c6fc0" stroke-width="1"/><rect x="539" y="7" width="14" height="2" fill="#5a96de"/><rect x="539" y="14" width="14" height="1" fill="#2c6fc0" opacity="0.8"/><polyline points="540.4,12.4 542.4,12.4 544,11 546,10.6 547.4,11.6 549.4,11.4 551.6,10.4" fill="none" stroke="#a01800" stroke-width="1.1"/><polyline points="541,17.6 543,16.8 544.6,17.6 546.4,16.8 548.4,15.4 550,16.4 551.6,17.8" fill="none" stroke="#0a8a0a" stroke-width="1.1"/><polygon points="560.6,11.9 566.6,11.9 563.6,15" fill="#000"/><rect x="572" y="0" width="1" height="25" fill="#a0a0a0" shape-rendering="crispEdges"/><rect x="573" y="0" width="1" height="25" fill="#fff" shape-rendering="crispEdges"/><rect x="576" y="3" width="3" height="1" fill="#8e8e8e" shape-rendering="crispEdges"/><rect x="576" y="5" width="3" height="1" fill="#8e8e8e" shape-rendering="crispEdges"/><rect x="576" y="7" width="3" height="1" fill="#8e8e8e" shape-rendering="crispEdges"/><rect x="576" y="9" width="3" height="1" fill="#8e8e8e" shape-rendering="crispEdges"/><rect x="576" y="11" width="3" height="1" fill="#8e8e8e" shape-rendering="crispEdges"/><rect x="576" y="13" width="3" height="1" fill="#8e8e8e" shape-rendering="crispEdges"/><rect x="576" y="15" width="3" height="1" fill="#8e8e8e" shape-rendering="crispEdges"/><rect x="576" y="17" width="3" height="1" fill="#8e8e8e" shape-rendering="crispEdges"/><rect x="576" y="19" width="3" height="1" fill="#8e8e8e" shape-rendering="crispEdges"/><rect x="576" y="21" width="3" height="1" fill="#8e8e8e" shape-rendering="crispEdges"/><polygon points="590,5.8 590,16.8 592.6,14.6 595.2,20 597.2,19.2 594.6,13.8 598,13.6" fill="#4a4a4a"/><g fill="#444" shape-rendering="crispEdges"><rect x="615" y="13" width="6" height="1"/><rect x="624" y="13" width="6" height="1"/><rect x="622" y="6" width="1" height="6"/><rect x="622" y="15" width="1" height="6"/><rect x="622" y="13" width="1" height="1" opacity="0.5"/></g><rect x="639" y="2" width="1" height="21" fill="#a0a0a0" shape-rendering="crispEdges"/><g fill="#444" shape-rendering="crispEdges"><rect x="656" y="7" width="1" height="13"/><rect x="679" y="13" width="12" height="1"/></g><line x1="707" y1="19.8" x2="719" y2="7.8" stroke="#444" stroke-width="1"/><line x1="732.8" y1="14.8" x2="741" y2="7" stroke="#555" stroke-width="0.9"/><line x1="738" y1="20" x2="747.2" y2="11" stroke="#555" stroke-width="0.9"/><g fill="#3c3c3c" shape-rendering="crispEdges"><rect x="735" y="12" width="1" height="8"/><rect x="734" y="17" width="1" height="1"/><rect x="736" y="14" width="1" height="1"/><rect x="738" y="11" width="1" height="6"/><rect x="737" y="15" width="1" height="1"/><rect x="739" y="12" width="1" height="1"/><rect x="741" y="9" width="1" height="7"/><rect x="740" y="14" width="1" height="1"/><rect x="742" y="10" width="1" height="1"/><rect x="744" y="5" width="1" height="8"/><rect x="743" y="9" width="1" height="1"/><rect x="745" y="7" width="1" height="1"/></g><text x="743.7" y="22" font-family="Liberation Sans,sans-serif" font-weight="bold" font-size="7px" fill="#333">E</text><line x1="762" y1="6.5" x2="775" y2="6.5" stroke="#444" stroke-width="1" stroke-dasharray="1 1" shape-rendering="crispEdges"/><line x1="762" y1="9.5" x2="775" y2="9.5" stroke="#444" stroke-width="1" stroke-dasharray="1 1" shape-rendering="crispEdges"/><line x1="762" y1="13.5" x2="775" y2="13.5" stroke="#444" stroke-width="1" stroke-dasharray="1 1" shape-rendering="crispEdges"/><line x1="762" y1="17.5" x2="771" y2="17.5" stroke="#444" stroke-width="1" stroke-dasharray="1 1" shape-rendering="crispEdges"/><text x="772" y="22" font-family="Liberation Sans,sans-serif" font-weight="bold" font-size="7px" fill="#333">F</text><text x="792.8" y="18" font-family="Liberation Sans,sans-serif" font-size="12.5px" fill="#444" stroke="#444" stroke-width="0.3">A</text><rect x="819.5" y="7.5" width="11" height="12" fill="none" stroke="#444" stroke-width="1" stroke-dasharray="1 1" shape-rendering="crispEdges"/><rect x="818" y="6" width="2" height="1.4" fill="#444"/><text x="821" y="17.8" font-family="Liberation Sans,sans-serif" font-size="10.5px" fill="#444" stroke="#444" stroke-width="0.3">T</text><polygon points="849.6,7 853.2,10.2 851.4,11.4 847.8,11.4 846,10.2" fill="#444"/><polygon points="853.4,16.2 855.2,15.2 858.6,15.2 860.2,16.2 856.8,20" fill="#444"/><polyline points="848.2,15.2 850.4,17 855,11.4" fill="none" stroke="#444" stroke-width="1.1"/><polygon points="866.6,11.9 872.6,11.9 869.6,15" fill="#000"/><rect x="878" y="0" width="1" height="25" fill="#a0a0a0" shape-rendering="crispEdges"/><rect x="879" y="0" width="1" height="25" fill="#fff" shape-rendering="crispEdges"/><rect x="882" y="3" width="3" height="1" fill="#8e8e8e" shape-rendering="crispEdges"/><rect x="882" y="5" width="3" height="1" fill="#8e8e8e" shape-rendering="crispEdges"/><rect x="882" y="7" width="3" height="1" fill="#8e8e8e" shape-rendering="crispEdges"/><rect x="882" y="9" width="3" height="1" fill="#8e8e8e" shape-rendering="crispEdges"/><rect x="882" y="11" width="3" height="1" fill="#8e8e8e" shape-rendering="crispEdges"/><rect x="882" y="13" width="3" height="1" fill="#8e8e8e" shape-rendering="crispEdges"/><rect x="882" y="15" width="3" height="1" fill="#8e8e8e" shape-rendering="crispEdges"/><rect x="882" y="17" width="3" height="1" fill="#8e8e8e" shape-rendering="crispEdges"/><rect x="882" y="19" width="3" height="1" fill="#8e8e8e" shape-rendering="crispEdges"/><rect x="882" y="21" width="3" height="1" fill="#8e8e8e" shape-rendering="crispEdges"/><rect x="1139" y="0" width="1" height="25" fill="#a0a0a0" shape-rendering="crispEdges"/><rect x="1140" y="0" width="1" height="25" fill="#fff" shape-rendering="crispEdges"/><line x1="1606.4" y1="13.4" x2="1602" y2="17.8" stroke="#1c50d0" stroke-width="2.4" stroke-linecap="round"/><circle cx="1609.6" cy="10.4" r="4" fill="#f6f6ff" stroke="#2a60d8" stroke-width="1.2"/><path d="M1631.6,10.2 C1626,10.2 1625,19.6 1629.4,19.6 L1629.6,21.6 L1632,19.6 L1636.4,19.6 C1639,19 1639,10.4 1631.6,10.2 Z" fill="#dcdce6" stroke="#a6a6a6" stroke-width="0.8"/><circle cx="1640.5" cy="10.4" r="8.2" fill="url(#gBadge)"/></svg>
<div class="cn" style="left:-2px;top:6px">新订单</div><div class="cn" style="left:149.5px;top:6px;letter-spacing:-0.35px">自动交易</div><div class="tf" style="left:886px">M1</div><div class="tf" style="left:914px">M5</div><div class="tf" style="left:942px">M15</div><div class="tf" style="left:970px">M30</div><div class="tf" style="left:998px">H1</div><div class="tf" style="left:1026px">H4</div><div class="tf" style="left:1054px">D1</div><div class="tf" style="left:1082px">W1</div><div class="tf" style="left:1110px">MN</div><div style="position:absolute;left:1635.5px;top:3px;width:8px;height:14px;line-height:14px;font-family:'Liberation Serif',serif;font-weight:bold;font-size:13px;color:#fff;text-align:center">1</div>
</body></html>
